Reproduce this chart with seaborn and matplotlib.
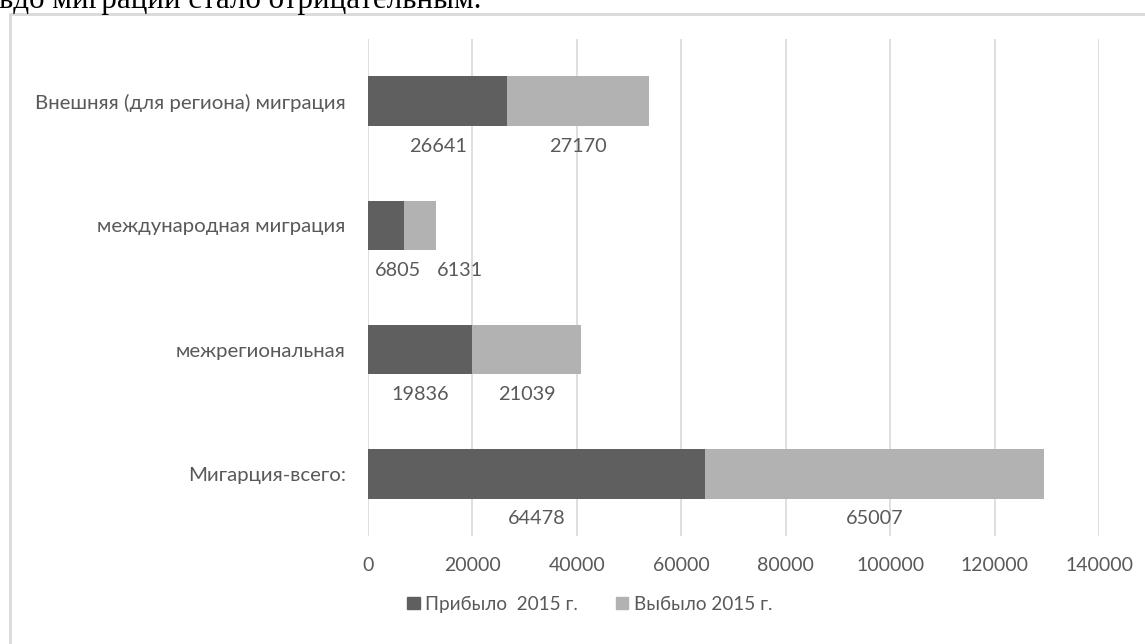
import numpy as np
import pandas as pd
import matplotlib
matplotlib.use("Agg")
import matplotlib.pyplot as plt
import seaborn as sns
from matplotlib.patches import Patch, Rectangle

# data
categories = ["Внешняя (для региона) миграция", "международная миграция",
              "межрегиональная", "Мигарция-всего:"]
arrived = [26641, 6805, 19836, 64478]
left_ = [27170, 6131, 21039, 65007]
series_names = ["Прибыло  2015 г.", "Выбыло 2015 г."]
xticks = [0, 20000, 40000, 60000, 80000, 100000, 120000, 140000]

dark = "#5f5f5f"
light = "#b2b2b2"
txt = "#595959"

sns.set_theme(style="white")
plt.rcParams["font.family"] = ["Lato", "DejaVu Sans"]

df = pd.DataFrame({"cat": categories, "arrived": arrived, "left": left_})
df["total"] = df["arrived"] + df["left"]

fig = plt.figure(figsize=(11.45, 6.44), dpi=100)
ax = fig.add_axes([368 / 1145, 1 - 536 / 644, (1099 - 368) / 1145, (536 - 39) / 644])

# stacked bars: total in light grey, arrived drawn over it in dark grey
sns.barplot(data=df, x="total", y="cat", color=light, width=0.4, ax=ax,
            saturation=1, edgecolor="none")
sns.barplot(data=df, x="arrived", y="cat", color=dark, width=0.4, ax=ax,
            saturation=1, edgecolor="none")

ax.set_xlim(0, 140000)
ax.set_ylim(3.5, -0.5)
ax.set_xticks(xticks)
ax.set_xticklabels([str(t) for t in xticks])
ax.xaxis.grid(True, color="#d9d9d9", lw=1.2)
ax.yaxis.grid(False)
ax.set_axisbelow(True)
for s in ax.spines.values():
    s.set_visible(False)
ax.tick_params(axis="x", length=0, pad=15, labelsize=14, labelcolor=txt)
ax.tick_params(axis="y", length=0, pad=16, labelsize=14.7, labelcolor=txt)
ax.set_xlabel("")
ax.set_ylabel("")

# data labels under each segment (the small ones were nudged right in the original)
nudge = [(0, 0), (12, 40), (0, 0), (0, 0)]
for i in range(len(categories)):
    a, b = arrived[i], left_[i]
    ax.annotate(str(a), (a / 2, i), xytext=(nudge[i][0], -45), textcoords="offset pixels",
                ha="center", va="center", fontsize=14.3, color=txt)
    ax.annotate(str(b), (a + b / 2, i), xytext=(nudge[i][1], -45), textcoords="offset pixels",
                ha="center", va="center", fontsize=14.3, color=txt)

handles = [Patch(color=dark), Patch(color=light)]
fig.legend(handles, series_names, loc="center", bbox_to_anchor=(590 / 1145, 1 - 604 / 644),
           ncol=2, frameon=False, fontsize=13.6, labelcolor=txt, handlelength=0.65,
           handleheight=0.65, handletextpad=0.3, columnspacing=2.0)

# chart frame and the clipped line of document text above it
fig.patches.append(Rectangle((10 / 1145, -0.1), 1.2, 1 - 13.5 / 644 + 0.1,
                             transform=fig.transFigure, fill=False,
                             edgecolor="#d9d9d9", lw=2))
fig.text(-1 / 1145, 1 - 8 / 644, "ьдо миграции стало отрицательным.", fontsize=22.3,
         family=["Liberation Serif", "DejaVu Serif"], color="black", va="baseline")

fig.savefig("out.png", dpi=100)
